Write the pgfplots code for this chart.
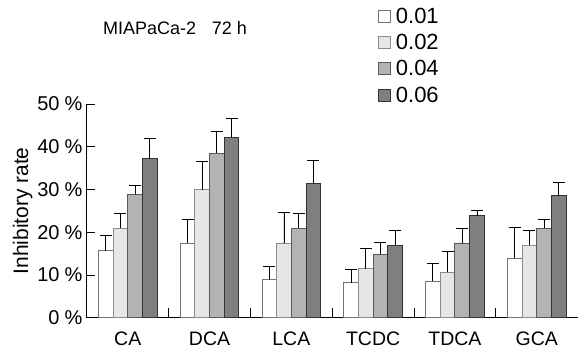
\documentclass[border=0pt]{standalone}
\usepackage{pgfplots}
\pgfplotsset{compat=1.18}
\usepackage{fontspec}
\setmainfont{Liberation Sans}
\definecolor{cB}{HTML}{E6E6E6}
\definecolor{cC}{HTML}{B3B3B3}
\definecolor{cD}{HTML}{7F7F7F}
\newcommand\fsA{\fontsize{18}{21}\selectfont}
\newcommand\fsX{\fontsize{19.5}{22}\selectfont}
\newcommand\fsT{\fontsize{20}{23}\selectfont}
\newcommand\fsB{\fontsize{21}{24}\selectfont}
\newcommand\fsL{\fontsize{22}{25}\selectfont}
\begin{document}
\begin{tikzpicture}
\begin{axis}[
  scale only axis, width=491pt, height=214pt,
  xmin=-0.5, xmax=5.5, ymin=0, ymax=50,
  axis x line=bottom, axis y line=left,
  axis line style={-, line width=0.8pt, black},
  ybar=0pt, bar width=14.7pt,
  clip=false,
  every tick label/.append style={font=\fsT},
  every axis y label/.append style={font=\fsB},
  tick align=inside,
  major tick length=8pt, minor tick length=10pt,
  ytick={0,10,20,30,40,50},
  yticklabels={0\hspace{0.25em}\%,10\hspace{0.25em}\%,20\hspace{0.25em}\%,30\hspace{0.25em}\%,40\hspace{0.25em}\%,50\hspace{0.25em}\%},
  yticklabel style={xshift=-1pt},
  xtick={0,1,2,3,4,5},
  xticklabels={CA,DCA,LCA,TCDC,TDCA,GCA},
  xticklabel style={font=\fsX, yshift=-11pt},
  minor xtick={0.5,1.5,2.5,3.5,4.5},
  major x tick style={draw=none},
  tick style={line width=0.8pt, black},
  ylabel={Inhibitory rate},
  ylabel style={yshift=-2pt},
  legend style={at={(rel axis cs:0.593,1.46)}, anchor=north west, draw=none, fill=none,
    font=\fsL, row sep=5.5pt, inner sep=0pt,
    legend cell align=left},
  sq/.style={legend image code/.code={\draw[##1, line width=0.8pt] (0pt,-6pt) rectangle (12pt,6pt); \path (15pt,0pt);}},
  error bars/error bar style={black, line width=0.8pt},
  error bars/error mark options={black, mark size=6pt, line width=0.8pt, rotate=90},
]
\addplot[sq, fill=white, draw=black!55, line width=0.9pt,
  error bars/.cd, y dir=plus, y explicit] coordinates {
  (0,15.7) +- (0,3.6) (1,17.5) +- (0,5.5) (2,8.9) +- (0,3.2)
  (3,8.2) +- (0,3.2) (4,8.6) +- (0,4.2) (5,13.9) +- (0,7.3)};
\addplot[sq, fill=cB, draw=black!45, line width=0.9pt,
  error bars/.cd, y dir=plus, y explicit] coordinates {
  (0,21.0) +- (0,3.5) (1,29.9) +- (0,6.7) (2,17.5) +- (0,7.2)
  (3,11.5) +- (0,4.8) (4,10.7) +- (0,4.9) (5,17.0) +- (0,3.4)};
\addplot[sq, fill=cC, draw=black!65, line width=0.9pt,
  error bars/.cd, y dir=plus, y explicit] coordinates {
  (0,28.9) +- (0,2.1) (1,38.5) +- (0,5.0) (2,21.0) +- (0,3.5)
  (3,14.9) +- (0,2.8) (4,17.5) +- (0,3.3) (5,21.0) +- (0,1.9)};
\addplot[sq, fill=cD, draw=black!80, line width=0.9pt,
  error bars/.cd, y dir=plus, y explicit] coordinates {
  (0,37.2) +- (0,4.7) (1,42.2) +- (0,4.5) (2,31.3) +- (0,5.5)
  (3,17.0) +- (0,3.4) (4,23.9) +- (0,1.3) (5,28.5) +- (0,3.2)};
\legend{0.01,0.02,0.04,0.06}
\node[anchor=west, font=\fsA] at (rel axis cs:0.026,1.355) {MIAPaCa-2\hspace{0.6em} 72 h};
\path (rel axis cs:-0.177,-0.187) rectangle (rel axis cs:1,1.486);
\end{axis}
\end{tikzpicture}
\end{document}
